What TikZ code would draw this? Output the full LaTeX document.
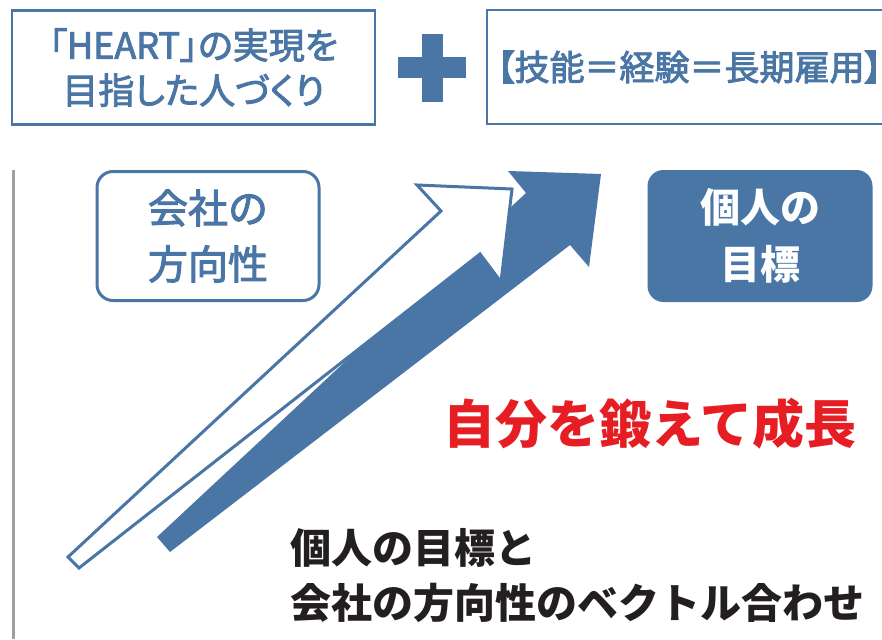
\documentclass[tikz,border=0pt]{standalone}
\usepackage{fontspec}
\newfontfamily\jpfont{Noto Sans CJK JP}
\newfontfamily\jpmed[FakeBold=2.5]{Noto Sans CJK JP}
\newfontfamily\jpprop[FakeBold=2.5,RawFeature=+palt]{Noto Sans CJK JP}
\definecolor{heartblue}{RGB}{74,118,165}
\definecolor{linegray}{RGB}{160,160,160}
\definecolor{growred}{RGB}{230,30,35}
\definecolor{textblack}{RGB}{35,31,32}
\tikzset{
  topbox/.style={draw=heartblue, line width=2.5pt, inner sep=0pt, text=heartblue,
    font=\jpprop\fontsize{36}{45}\selectfont},
  roundbox/.style={rounded corners=16pt, line width=3pt, inner sep=0pt,
    minimum width=222pt, minimum height=129pt, align=center,
    font=\jpmed\fontsize{40}{56}\selectfont},
}
\begin{document}
\begin{tikzpicture}[x=1pt,y=-1pt]
        \useasboundingbox (0,0) rectangle (882,639);
        \fill[white] (0,0) rectangle (882,639);

        % draw top boxes
        \node[topbox, minimum width=363pt, minimum height=114pt, align=center]
          (heart) at (193.5,67.5) {「HEART」の実現を\\目指した人づくり};
        \node[topbox, minimum height=114pt, text width=388pt, inner xsep=10pt, align=left,
          font=\jpprop\fontsize{35}{44}\selectfont]
          (skill) at (691,67) {【技能＝経験＝長期雇用】};

        % draw plus sign
        \fill[heartblue] (422,34) rectangle (443,102);
        \fill[heartblue] (398,57) rectangle (466,78);

        % draw vertical line
        \draw[linegray, line width=3pt] (13,170) -- (13,639);

        % draw rounded boxes
        \node[roundbox, draw=heartblue, fill=white, text=heartblue]
          (company) at (208,236) {会社の\\方向性};
        \node[roundbox, fill=heartblue, text=white, minimum width=225pt, minimum height=132pt,
          font=\jpfont\bfseries\fontsize{40}{57}\selectfont]
          (personal) at (760,236) {個人の\\目標};

        % draw filled arrow
        \fill[heartblue] (157,537) -- (526,193) -- (508,171) -- (601,174)
          -- (589,267) -- (570,245) -- (170,552) -- cycle;

        % draw outline arrow
        \filldraw[fill=white, draw=heartblue, line width=3pt]
          (68,557) -- (441,211) -- (417,185) -- (512,189)
          -- (501,282) -- (480,254) -- (79,568) -- cycle;

        % draw texts
        \node[anchor=west, text=growred, font=\jpfont\bfseries\fontsize{52}{60}\selectfont]
          (grow) at (440,424) {自分を鍛えて成長};
        \node[anchor=west, align=left, text=textblack, inner sep=0pt,
          font=\jpfont\bfseries\fontsize{41}{55}\selectfont]
          (vector) at (290,576) {個人の目標と\\会社の方向性のベクトル合わせ};
\end{tikzpicture}
\end{document}
